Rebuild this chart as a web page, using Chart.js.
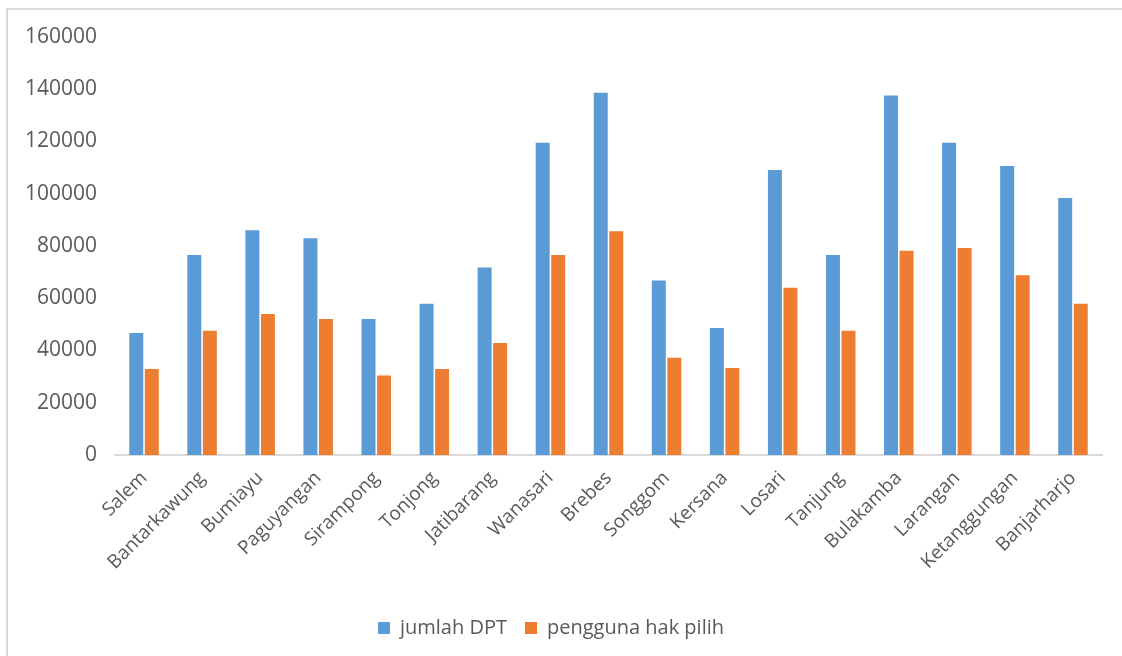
<!DOCTYPE html>
<html>
<head>
<meta charset="utf-8">
<title>Jumlah DPT dan Pengguna Hak Pilih</title>
<script src="https://cdn.jsdelivr.net/npm/chart.js@4/dist/chart.umd.min.js"></script>
<style>
    body { margin: 0; background: #fff; }
    .frame {
        position: absolute;
        left: 6px;
        top: 8px;
        width: 1116px;
        height: 648px;
        border-left: 2px solid #d9d9d9;
        border-top: 2px solid #d9d9d9;
    }
    #dptChart { position: absolute; left: 0; top: 0; }
</style>
</head>
<body>
<div class="frame"></div>
<canvas id="dptChart" width="1122" height="656"></canvas>
<script>
// Kecamatan (districts) on the x axis
const kecamatan = [
    'Salem', 'Bantarkawung', 'Bumiayu', 'Paguyangan', 'Sirampong', 'Tonjong',
    'Jatibarang', 'Wanasari', 'Brebes', 'Songgom', 'Kersana', 'Losari',
    'Tanjung', 'Bulakamba', 'Larangan', 'Ketanggungan', 'Banjarharjo'
];

// Values
const jumlahDPT = [
    46700, 76600, 86000, 83000, 52100, 57900,
    71800, 119500, 138700, 66800, 48600, 109100,
    76600, 137600, 119500, 110600, 98400
];
const penggunaHakPilih = [
    32900, 47600, 54000, 52100, 30400, 32900,
    42900, 76600, 85600, 37200, 33300, 64000,
    47600, 78200, 79200, 68800, 57900
];

// Y axis ticks
const yTicks = [0, 20000, 40000, 60000, 80000, 100000, 120000, 140000, 160000];

const textColor = '#595959';
const fontFamily = "'Open Sans', sans-serif";

document.addEventListener('DOMContentLoaded', function() {
    const ctx = document.getElementById('dptChart');

    new Chart(ctx, {
        type: 'bar',
        data: {
            labels: kecamatan,
            datasets: [{
                label: 'jumlah DPT',
                data: jumlahDPT,
                backgroundColor: '#5B9BD5',
                categoryPercentage: 0.535,
                barPercentage: 0.9
            }, {
                label: 'pengguna hak pilih',
                data: penggunaHakPilih,
                backgroundColor: '#ED7D31',
                categoryPercentage: 0.535,
                barPercentage: 0.9
            }]
        },
        options: {
            responsive: false,
            animation: false,
            layout: {
                padding: { left: 0, right: 20, top: 37, bottom: 8 }
            },
            plugins: {
                legend: {
                    position: 'bottom',
                    labels: {
                        font: { family: fontFamily, size: 20 },
                        color: textColor,
                        boxWidth: 12,
                        boxHeight: 12,
                        padding: 18
                    }
                },
                tooltip: { enabled: false }
            },
            scales: {
                x: {
                    grid: { display: false },
                    border: { color: '#d9d9d9', width: 2 },
                    ticks: {
                        font: { family: fontFamily, size: 19 },
                        color: textColor,
                        minRotation: 45,
                        maxRotation: 45,
                        autoSkip: false,
                        padding: 4
                    },
                    afterFit: function(scale) {
                        scale.height = 145;
                    }
                },
                y: {
                    min: 0,
                    max: yTicks[yTicks.length - 1],
                    grid: { display: false, drawTicks: false },
                    border: { display: false },
                    afterBuildTicks: function(scale) {
                        scale.ticks = yTicks.map(v => ({ value: v }));
                    },
                    ticks: {
                        font: { family: fontFamily, size: 21 },
                        color: textColor,
                        padding: 18,
                        callback: function(value) {
                            return String(value);
                        }
                    },
                    afterFit: function(scale) {
                        scale.width = 115;
                    }
                }
            }
        }
    });
});
</script>
</body>
</html>
